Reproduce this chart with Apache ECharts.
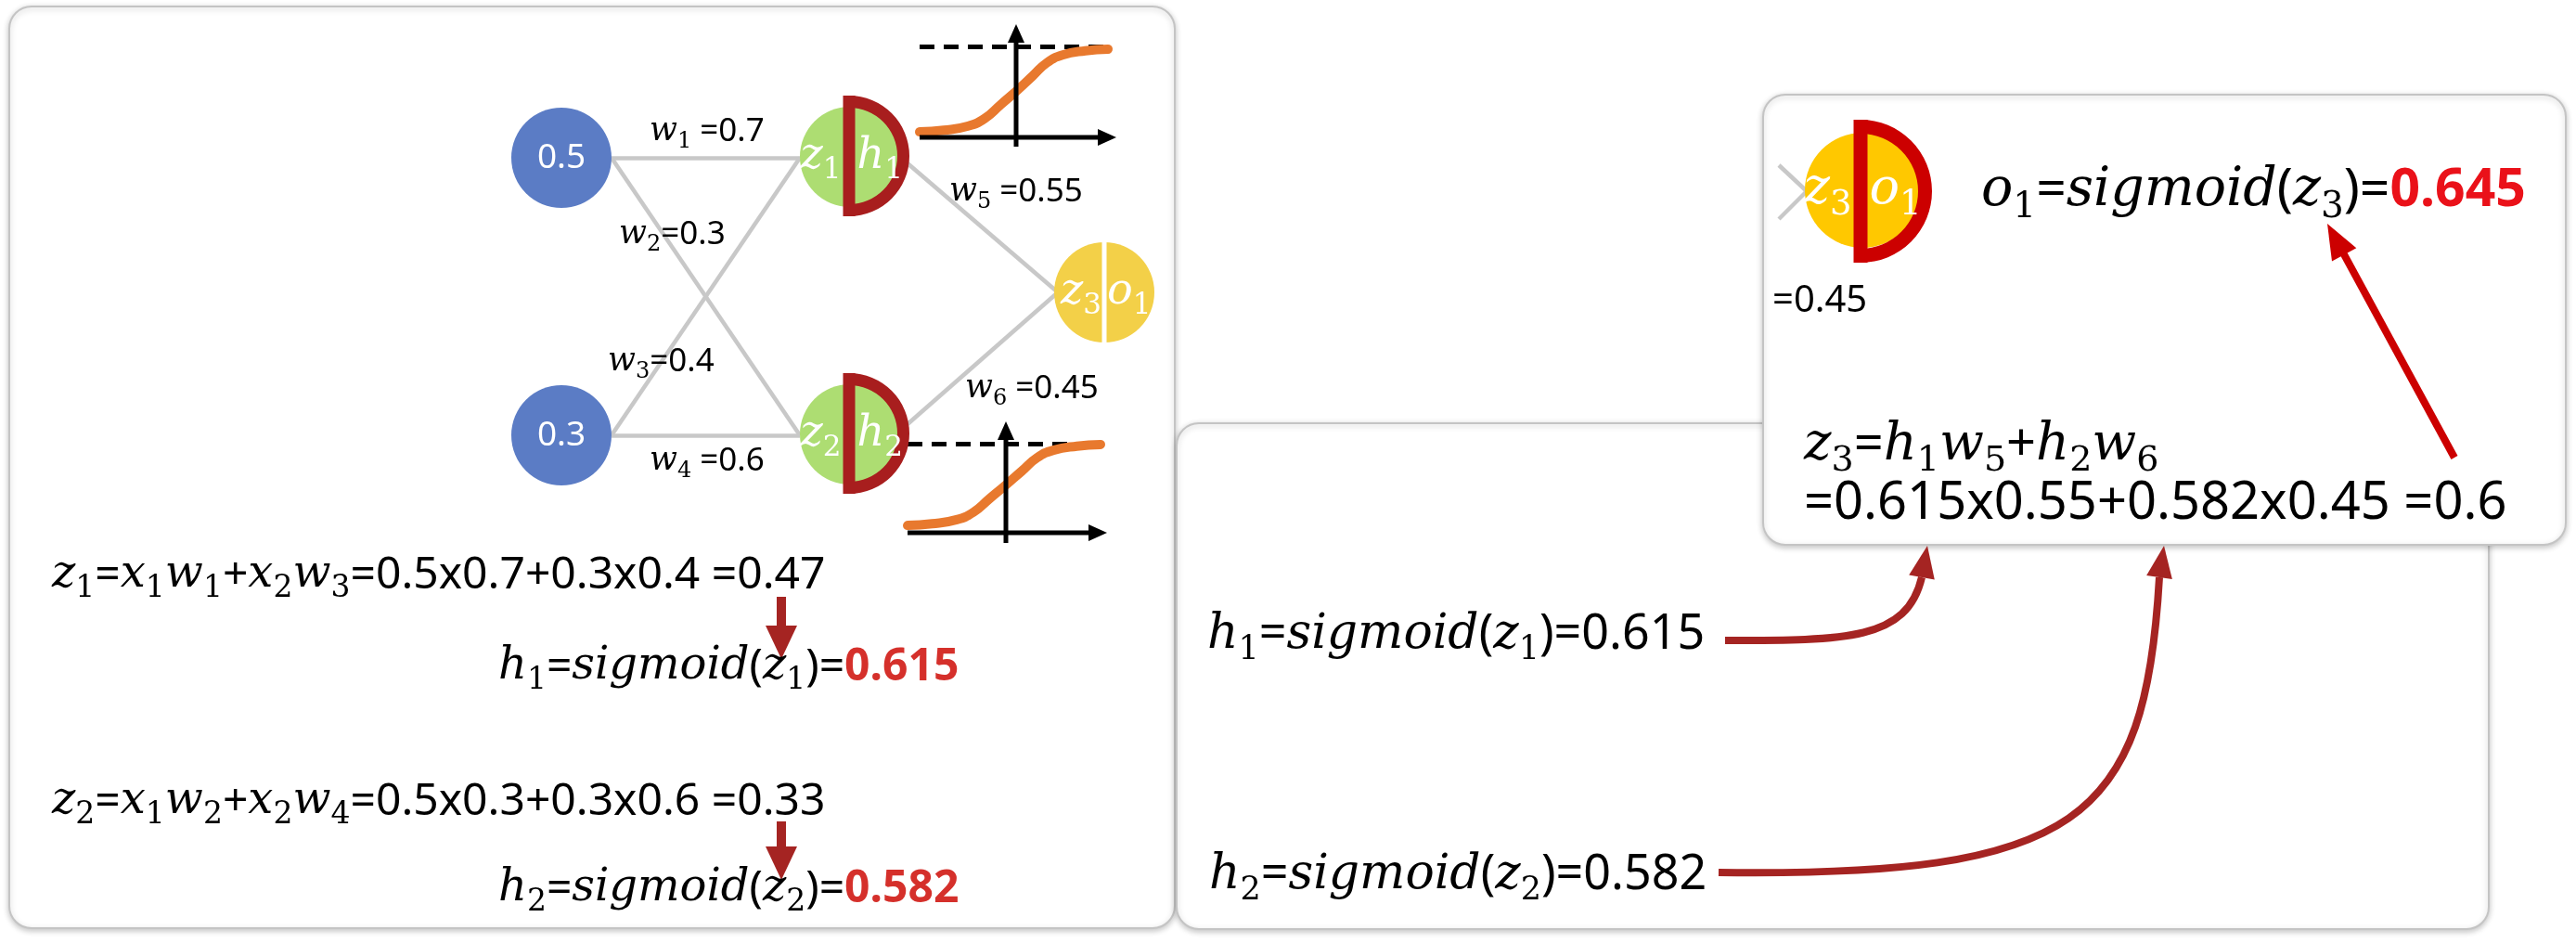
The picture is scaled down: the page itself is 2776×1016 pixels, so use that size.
<!DOCTYPE html>
<html><head><meta charset="utf-8">
<script src="https://cdn.jsdelivr.net/npm/echarts@6/dist/echarts.min.js"></script>
<style>html,body{margin:0;padding:0;background:#fff}#c{width:2776px;height:1016px}</style>
</head><body><div id="c"></div>
<script>
// ---------- values ----------
const inputs = [0.5, 0.3];
const weights = [0.7, 0.3, 0.4, 0.6, 0.55, 0.45];
const zVals = [0.47, 0.33, 0.6];
const hVals = [0.615, 0.582];
const outVals = [0.645];
// sigmoid shape: [t (-1..1), fraction 0..1]
const sigmoidShape = [[-1,0.01],[-0.75,0.03],[-0.5,0.08],[-0.33,0.17],[-0.17,0.33],[0,0.5],[0.17,0.67],[0.33,0.83],[0.5,0.92],[0.75,0.97],[1,0.99]];

// ---------- layout (pixel space of the hidden axes) ----------
const panelBoxes = [[10,7,1266,1000],[1268,456,2682,1001],[1900,102,2765,587]];
const inputPos = [[605,170],[605,469]];
const edgePos = [
  [[659,170],[862,170]],[[659,170],[862,469]],[[659,469],[862,170]],[[659,469],[862,469]],
  [[978,176],[1140,315]],[[978,457],[1140,315]],
  [[1917,178],[1947,206]],[[1917,236],[1947,206]]
];
const plotBoxes = [
  {x0:991,xc:1096,x1:1194,yLow:143,yHigh:52,hAxis:[[991,148],[1203,148]],vAxis:[[1095,158],[1095,26]],dash:[[991,50],[1198,50]]},
  {x0:978,xc:1084,x1:1186,yLow:567,yHigh:478,hAxis:[[978,574],[1193,574]],vAxis:[[1084,585],[1084,454]],dash:[[978,478],[1186,478]]}
];
const C = {
  blue:'#5b7cc5', green:'#addd72', ringDark:'#a81e1e', yellowL:'#f3d048', yellowB:'#ffc800',
  ringBright:'#cc0000', gray:'#c8c8c8', orange:'#e8792e', darkRed:'#a52422', redL:'#d5302b', redB:'#ea1119'
};

// ---------- math rich text ----------
function mathTok(str){
  let out='', i=0;
  while(i<str.length){
    const c=str[i];
    if(c==='_'){out+='{s|'+str[i+1]+'}';i+=2;continue;}
    if(/[a-z]/i.test(c)){let j=i;while(j<str.length&&/[a-z]/i.test(str[j]))j++;out+='{v|'+str.slice(i,j)+'}';i=j;continue;}
    let j=i;while(j<str.length&&str[j]!=='_'&&!/[a-z]/i.test(str[j]))j++;out+='{n|'+str.slice(i,j)+'}';i=j;
  }
  return out;
}
function richSet(F,col,red){
  const L=Math.round(F*1.3);
  return {
    v:{fontFamily:'DejaVu Serif',fontStyle:'italic',fontSize:F,lineHeight:L,fill:col},
    s:{fontFamily:'DejaVu Serif',fontSize:Math.round(F*0.68),lineHeight:L,fill:col,verticalAlign:'bottom'},
    n:{fontFamily:'Noto Sans',fontSize:F,lineHeight:L,fill:col},
    r:{fontFamily:'Noto Sans',fontWeight:'bold',fontSize:F,lineHeight:L,fill:red||col}
  };
}
const num = s => '{n|'+s+'}';
const red = s => '{r|'+s+'}';

const eq1Num = `=${inputs[0]}x${weights[0]}+${inputs[1]}x${weights[2]} =${zVals[0]}`;
const eq2Num = `=${inputs[0]}x${weights[1]}+${inputs[1]}x${weights[3]} =${zVals[1]}`;
const z3Num  = `=${hVals[0]}x${weights[4]}+${hVals[1]}x${weights[5]} =${zVals[2]}`;

const textSpecs = [
  // weight labels
  {p:[700,142],F:35,t:mathTok('w_1')+num(' ='+weights[0])},
  {p:[667,253],F:35,t:mathTok('w_2')+num('='+weights[1])},
  {p:[655,390],F:35,t:mathTok('w_3')+num('='+weights[2])},
  {p:[700,497],F:35,t:mathTok('w_4')+num(' ='+weights[3])},
  {p:[1023,207],F:35,t:mathTok('w_5')+num(' ='+weights[4])},
  {p:[1040,419],F:35,t:mathTok('w_6')+num(' ='+weights[5])},
  // left panel equations
  {p:[56,620],F:48,t:mathTok('z_1=x_1w_1+x_2w_3')+num(eq1Num)},
  {p:[537,719],F:48,t:mathTok('h_1=sigmoid(z_1)=')+red(hVals[0]),red:C.redL},
  {p:[56,864],F:48,t:mathTok('z_2=x_1w_2+x_2w_4')+num(eq2Num)},
  {p:[537,958],F:48,t:mathTok('h_2=sigmoid(z_2)=')+red(hVals[1]),red:C.redL},
  // bottom panel
  {p:[1301,684],F:52,t:mathTok('h_1=sigmoid(z_1)=')+num(hVals[0])},
  {p:[1303,943],F:52,t:mathTok('h_2=sigmoid(z_2)=')+num(hVals[1])},
  // zoomed panel
  {p:[1910,325],F:40,t:num('='+weights[5])},
  {p:[2135,206],F:57,t:mathTok('o_1=sigmoid(z_3)=')+red(outVals[0]),red:C.redB},
  {p:[1944,480],F:56,t:mathTok('z_3=h_1w_5+h_2w_6')},
  {p:[1944,543],F:56,t:num(z3Num)}
];

const nodeSpecs = [
  {c:[916,169],r:54,fill:C.green,ring:{c:[915,168],R:65,w:13,color:C.ringDark},lab:['z_1','h_1'],F:46},
  {c:[916,468],r:54,fill:C.green,ring:{c:[915,467],R:65,w:13,color:C.ringDark},lab:['z_2','h_2'],F:46},
  {c:[1190,315],r:54,fill:C.yellowL,divider:5,lab:['z_3','o_1'],F:46},
  {c:[2007,205],r:62,fill:C.yellowB,ring:{c:[2005,206],R:77,w:15,color:C.ringBright},lab:['z_3','o_1'],F:54}
];

const arrowSpecs = [
  // sigmoid axes
  {p0:plotBoxes[0].hAxis[0],tip:plotBoxes[0].hAxis[1],w:5,hl:20,hw:18,color:'#000'},
  {p0:plotBoxes[0].vAxis[0],tip:plotBoxes[0].vAxis[1],w:5,hl:20,hw:18,color:'#000'},
  {p0:plotBoxes[1].hAxis[0],tip:plotBoxes[1].hAxis[1],w:5,hl:20,hw:18,color:'#000'},
  {p0:plotBoxes[1].vAxis[0],tip:plotBoxes[1].vAxis[1],w:5,hl:20,hw:18,color:'#000'},
  // left panel down arrows
  {p0:[842,643],tip:[842,710],w:10,hl:36,hw:34,color:C.darkRed},
  {p0:[842,885],tip:[842,948],w:10,hl:36,hw:34,color:C.darkRed},
  // zoom panel arrow
  {p0:[2645,493],tip:[2508,241],w:8,hl:38,hw:30,color:C.ringBright},
  // curved arrows
  {p0:[1859,690],c1:[1990,690],c2:[2055,690],p3:[2071,622],tip:[2077,588],w:8,hw:28,color:C.darkRed},
  {p0:[1852,940],c1:[2240,945],c2:[2312,885],p3:[2327,622],tip:[2332,588],w:8,hw:28,color:C.darkRed}
];

// ---------- chart ----------
const chart = echarts.init(document.getElementById('c'), null, {renderer:'canvas', width:2776, height:1016});

function sigmoidData(b){
  return sigmoidShape.map(([t,f]) => [t<0 ? b.xc + t*(b.xc-b.x0) : b.xc + t*(b.x1-b.xc), b.yLow - f*(b.yLow-b.yHigh)]);
}

function arrowEls(s, api){
  const P = q => api.coord(q);
  const tip = P(s.tip);
  const els = [];
  let base;
  if (s.c1){
    const a=P(s.p0), b=P(s.c1), c=P(s.c2), d=P(s.p3);
    els.push({type:'bezierCurve',shape:{x1:a[0],y1:a[1],cpx1:b[0],cpy1:b[1],cpx2:c[0],cpy2:c[1],x2:d[0],y2:d[1]},
      style:{stroke:s.color,lineWidth:s.w,fill:null,lineCap:'butt'}});
    base = d;
  } else {
    const a=P(s.p0);
    const dx=tip[0]-a[0], dy=tip[1]-a[1], L=Math.hypot(dx,dy);
    base=[tip[0]-dx/L*s.hl, tip[1]-dy/L*s.hl];
    els.push({type:'line',shape:{x1:a[0],y1:a[1],x2:base[0]+dx/L*2,y2:base[1]+dy/L*2},style:{stroke:s.color,lineWidth:s.w}});
  }
  const dx=tip[0]-base[0], dy=tip[1]-base[1], L=Math.hypot(dx,dy);
  const nx=-dy/L, ny=dx/L, h=s.hw/2;
  els.push({type:'polygon',shape:{points:[[tip[0],tip[1]],[base[0]+nx*h,base[1]+ny*h],[base[0]-nx*h,base[1]-ny*h]]},style:{fill:s.color}});
  return els;
}

const option = {
  animation:false,
  backgroundColor:'#ffffff',
  grid:{left:0,right:0,top:0,bottom:0,containLabel:false},
  xAxis:{type:'value',min:0,max:2776,show:false},
  yAxis:{type:'value',min:0,max:1016,inverse:true,show:false},
  series:[
    { // panels
      type:'custom',coordinateSystem:'cartesian2d',silent:true,z:1,
      data:panelBoxes,
      renderItem:(p,api)=>{
        const a=api.coord([api.value(0),api.value(1)]), b=api.coord([api.value(2),api.value(3)]);
        return {type:'rect',shape:{x:a[0],y:a[1],width:b[0]-a[0],height:b[1]-a[1],r:24},
          style:{fill:'#fff',stroke:'#c4c4c4',lineWidth:2,shadowBlur:6,shadowColor:'rgba(0,0,0,0.22)',shadowOffsetY:2}};
      }
    },
    { // edges
      type:'lines',coordinateSystem:'cartesian2d',silent:true,z:2,
      lineStyle:{color:C.gray,width:4.5,opacity:1,curveness:0},
      data:edgePos.map(e=>({coords:e}))
    },
    { // dashed saturation lines
      type:'lines',coordinateSystem:'cartesian2d',silent:true,z:3,
      lineStyle:{color:'#000',width:5,opacity:1,type:[16,10]},
      data:plotBoxes.map(b=>({coords:b.dash}))
    },
    ...plotBoxes.map(b=>({
      type:'line',silent:true,z:4,smooth:0.5,showSymbol:false,symbol:'none',
      lineStyle:{color:C.orange,width:10,cap:'round'},
      data:sigmoidData(b)
    })),
    { // input nodes
      type:'scatter',silent:true,z:6,symbol:'circle',symbolSize:108,
      itemStyle:{color:C.blue,opacity:1},
      label:{show:true,position:'inside',formatter:p=>p.name,color:'#fff',fontSize:37,fontFamily:'Noto Sans'},
      data:inputPos.map((p,i)=>({name:String(inputs[i]),value:p}))
    },
    { // hidden/output nodes
      type:'custom',coordinateSystem:'cartesian2d',silent:true,z:6,
      data:nodeSpecs.map(s=>s.c),
      renderItem:(p,api)=>{
        const s=nodeSpecs[p.dataIndex];
        const c=api.coord(s.c), r=api.size([s.r,0])[0];
        const ch=[{type:'circle',shape:{cx:c[0],cy:c[1],r:r},style:{fill:s.fill}}];
        let bx=c[0];
        if (s.ring){
          const rc=api.coord(s.ring.c), R=api.size([s.ring.R,0])[0], w=s.ring.w;
          bx=rc[0];
          ch.push({type:'sector',shape:{cx:rc[0],cy:rc[1],r:R,r0:R-w,startAngle:-Math.PI/2,endAngle:Math.PI/2,clockwise:true},style:{fill:s.ring.color}});
          ch.push({type:'rect',shape:{x:rc[0]-w/2,y:rc[1]-R,width:w,height:2*R},style:{fill:s.ring.color}});
        }
        if (s.divider){
          ch.push({type:'rect',shape:{x:c[0]-s.divider/2,y:c[1]-r,width:s.divider,height:2*r},style:{fill:'#fff'}});
        }
        const gap = s.ring ? s.ring.w/2+2 : 3;
        ch.push({type:'text',style:{text:mathTok(s.lab[0]),x:bx-gap,y:c[1],align:'right',verticalAlign:'middle',rich:richSet(s.F,'#fff')}});
        ch.push({type:'text',style:{text:mathTok(s.lab[1]),x:bx+gap,y:c[1],align:'left',verticalAlign:'middle',rich:richSet(s.F,'#fff')}});
        return {type:'group',children:ch};
      }
    },
    { // arrows
      type:'custom',coordinateSystem:'cartesian2d',silent:true,z:7,
      data:arrowSpecs.map(s=>s.p0),
      renderItem:(p,api)=>({type:'group',children:arrowEls(arrowSpecs[p.dataIndex],api)})
    },
    { // texts
      type:'custom',coordinateSystem:'cartesian2d',silent:true,z:8,
      data:textSpecs.map(s=>s.p),
      renderItem:(p,api)=>{
        const s=textSpecs[p.dataIndex]; const c=api.coord(s.p);
        return {type:'text',style:{text:s.t,x:c[0],y:c[1],align:'left',verticalAlign:'middle',rich:richSet(s.F,'#000',s.red)}};
      }
    }
  ]
};
chart.setOption(option);
</script></body></html>
